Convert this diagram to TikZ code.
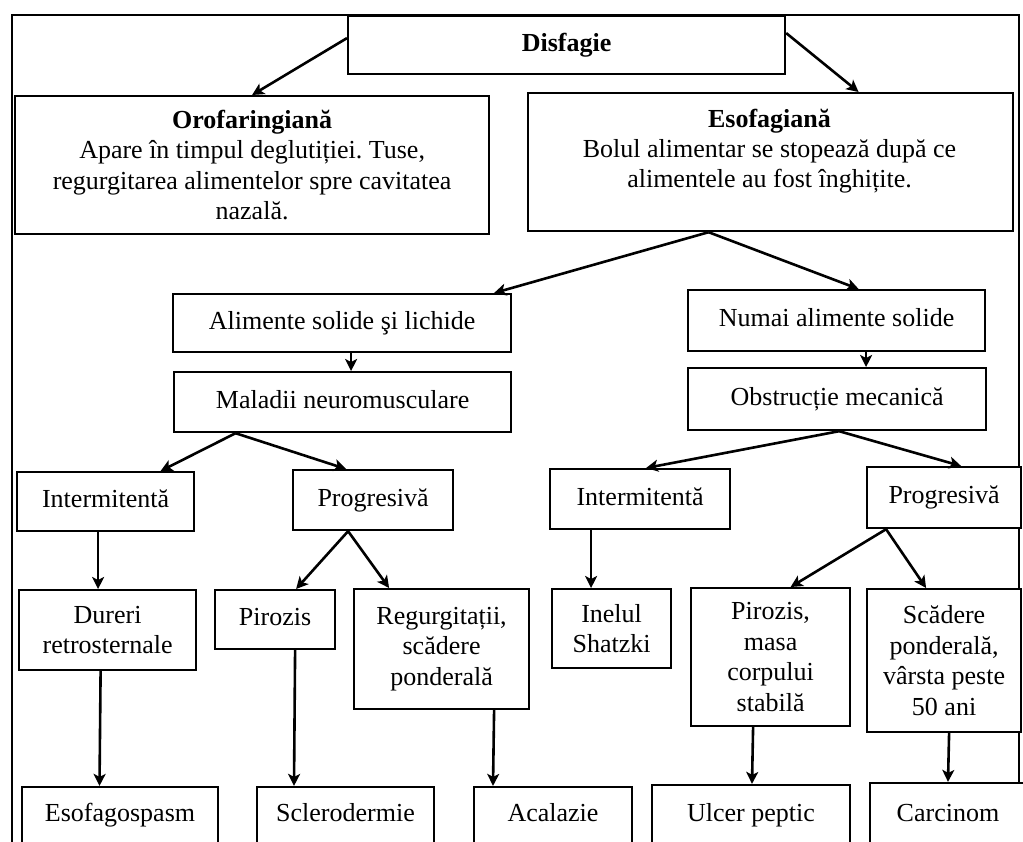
\documentclass[tikz,border=0pt]{standalone}
\usepackage{fontspec}
\setmainfont{Liberation Serif}
\usetikzlibrary{arrows.meta}
\frenchspacing

\tikzset{
  box/.style={draw, line width=2.2pt, fill=white, inner sep=0pt, align=center,
              font=\fontsize{26}{30.5}\selectfont},
  tl/.style={anchor=north west},
  one/.style={text height=18pt, text depth=6pt},
  txt/.style={inner sep=0pt, align=center, font=\fontsize{26}{30}\selectfont},
  endbox/.style={box, anchor=base, text height=34pt, text depth=50pt},
  arr/.style={line width=2.6pt, -{Stealth[length=12pt,width=12pt,inset=3pt]}},
  frame/.style={line width=2pt}
}

\begin{document}
\begin{tikzpicture}[x=1pt, y=-1pt]
\useasboundingbox (0,0) rectangle (1023,842);
\clip (0,0) rectangle (1023,842);

% outer frame
\draw[frame] (12,15) rectangle (1019,900);

% level 0-1
\node[box, tl, one, minimum width=437pt, minimum height=58pt] (dis) at (347,15) {\textbf{Disfagie}};
\node[box, tl, minimum width=474pt, minimum height=138pt] (oro) at (14,95)
  {\textbf{Orofaringiană}\\Apare în timpul deglutiției. Tuse,\\regurgitarea alimentelor spre cavitatea\\nazală.};
\node[box, tl, minimum width=485pt, minimum height=138pt] (eso) at (527,92) {};
\node[txt] (esot) at (769.5,151)
  {\textbf{Esofagiană}\\Bolul alimentar se stopează după ce\\alimentele au fost înghițite.};

% level 2-3
\node[box, tl, one, minimum width=338pt, minimum height=58pt] (alim) at (172,293) {Alimente solide şi lichide};
\node[box, tl, one, minimum width=337pt, minimum height=60pt] (mal) at (173,371) {Maladii neuromusculare};
\node[box, tl, one, minimum width=297pt, minimum height=61pt] (num) at (687,289) {Numai alimente solide};
\node[box, tl, one, minimum width=298pt, minimum height=62pt] (obs) at (687,367) {Obstrucție mecanică};

% level 4
\node[box, tl, one, minimum width=177pt, minimum height=59pt] (int1) at (16,471) {Intermitentă};
\node[box, tl, one, minimum width=160pt, minimum height=60pt] (prog1) at (292,469) {Progresivă};
\node[box, tl, one, minimum width=180pt, minimum height=60pt] (int2) at (549,468) {Intermitentă};
\node[box, tl, one, minimum width=154pt, minimum height=61pt] (prog2) at (866,466) {Progresivă};

% level 5
\node[box, tl, minimum width=177pt, minimum height=80pt] (dur) at (18,589) {Dureri\\retrosternale};
\node[box, tl, one, minimum width=120pt, minimum height=59pt] (pir) at (214,589) {Pirozis};
\node[box, tl, minimum width=175pt, minimum height=120pt] (reg) at (353,588) {Regurgitații,\\scădere\\ponderală};
\node[box, tl, minimum width=119pt, minimum height=79pt] (ine) at (551,588) {Inelul\\Shatzki};
\node[box, tl, minimum width=159pt, minimum height=138pt] (pm) at (690,587) {Pirozis,\\masa\\corpului\\stabilă};
\node[box, tl, minimum width=154pt, minimum height=143pt] (scd) at (866,588) {Scădere\\ponderală,\\vârsta peste\\50 ani};

% level 6 (diagnoses)
\node[endbox, minimum width=196pt] (esp) at (120,821) {Esofagospasm};
\node[endbox, minimum width=177pt] (scl) at (345.5,821) {Sclerodermie};
\node[endbox, minimum width=158pt] (aca) at (553,821) {Acalazie};
\node[endbox, minimum width=198pt, text height=36pt] (ulc) at (751,821) {Ulcer peptic};
\node[endbox, minimum width=156pt, text height=38pt] (car) at (948,821) {Carcinom};

% connectors
\draw[arr] ([yshift=7pt]dis.west) -- (oro.north);
\draw[arr] ([yshift=12pt]dis.east) -- ([xshift=88pt]eso.north);
\draw[arr] ([xshift=-62pt]eso.south) -- ([xshift=152pt]alim.north);
\draw[arr] ([xshift=-62pt]eso.south) -- ([xshift=22pt]num.north);
\draw[arr] ([xshift=9pt]alim.south) -- ([xshift=8.5pt]mal.north);
\draw[arr] ([xshift=29.5pt]num.south) -- ([xshift=29pt]obs.north);
\draw[arr] ([xshift=-107pt]mal.south) -- ([xshift=55pt]int1.north);
\draw[arr] ([xshift=-107pt]mal.south) -- ([xshift=-27pt]prog1.north);
\draw[arr] ([xshift=2pt]obs.south) -- ([xshift=6pt]int2.north);
\draw[arr] ([xshift=2pt]obs.south) -- ([xshift=17pt]prog2.north);
\draw[arr] ([xshift=-7.5pt]int1.south) -- ([xshift=-9.5pt]dur.north);
\draw[arr] ([xshift=-25pt]prog1.south) -- ([xshift=21pt]pir.north);
\draw[arr] ([xshift=-25pt]prog1.south) -- ([xshift=-52.5pt]reg.north);
\draw[arr] ([xshift=-49pt]int2.south) -- ([xshift=-20.5pt]ine.north);
\draw[arr] ([xshift=-58pt]prog2.south) -- ([xshift=20pt]pm.north);
\draw[arr] ([xshift=-58pt]prog2.south) -- ([xshift=-18pt]scd.north);
\draw[arr] ([xshift=-7pt]dur.south) -- ([xshift=-20.5pt]esp.north);
\draw[arr] ([xshift=20pt]pir.south) -- ([xshift=-51.5pt]scl.north);
\draw[arr] ([xshift=52.5pt]reg.south) -- ([xshift=-60pt]aca.north);
\draw[arr] ([xshift=-17.5pt]pm.south) -- ([xshift=1pt]ulc.north);
\draw[arr] ([xshift=5pt]scd.south) -- (car.north);
\end{tikzpicture}
\end{document}
